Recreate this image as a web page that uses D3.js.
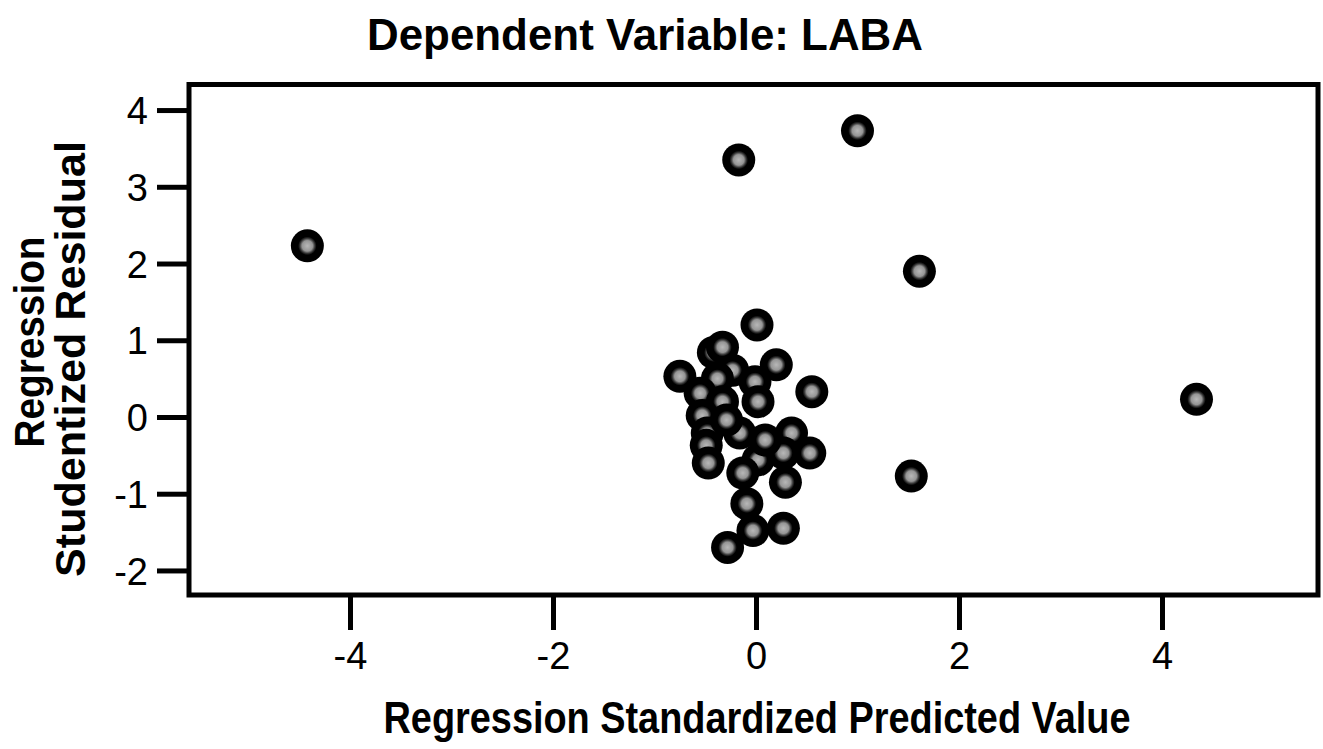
<!DOCTYPE html>
<html>
<head>
<meta charset="utf-8">
<script src="https://cdn.jsdelivr.net/npm/d3@7"></script>
<style>
  body { margin: 0; background: #fff; }
  svg { display: block; }
  text { font-family: "Liberation Sans Narrow", "Arial Narrow", Arial, "Liberation Sans", sans-serif; fill: #000; }
</style>
</head>
<body>
<svg width="1323" height="749"></svg>
<script>
// Data
var predicted = [-4.42, -0.17, 1.00, 1.61, 4.34, 1.53,
  0.01, -0.42, -0.33, 0.20, -0.75, -0.23, -0.38, -0.01, 0.55, -0.55,
  -0.33, 0.02, -0.53, -0.48, -0.16, -0.49, 0.35, 0.27, 0.02, 0.53,
  -0.47, -0.13, 0.29, -0.09, -0.03, 0.27, -0.28, 0.09, -0.29];
var residual = [2.23, 3.35, 3.73, 1.90, 0.23, -0.77,
  1.20, 0.84, 0.91, 0.68, 0.53, 0.61, 0.50, 0.46, 0.33, 0.31,
  0.20, 0.20, 0.02, -0.21, -0.21, -0.37, -0.21, -0.47, -0.56, -0.47,
  -0.60, -0.73, -0.85, -1.13, -1.48, -1.45, -1.70, -0.30, -0.04];
var xTicks = [-4, -2, 0, 2, 4];
var yTicks = [-2, -1, 0, 1, 2, 3, 4];

var title = "Dependent Variable: LABA";
var xLabel = "Regression Standardized Predicted Value";
var yLabel = ["Regression", "Studentized Residual"];

var points = predicted.map(function(d, i) { return {x: d, y: residual[i]}; });

var svg = d3.select("svg"),
    box = {left: 189, right: 1318, top: 84.5, bottom: 595};

var x = d3.scaleLinear().domain([-5.586, 5.537]).range([box.left, box.right]);
var y = d3.scaleLinear().domain([-2.32, 4.333]).range([box.bottom, box.top]);

// marker: black disc with a grey centre
var defs = svg.append("defs");
var grad = defs.append("radialGradient").attr("id", "dot");
grad.append("stop").attr("offset", "0%").attr("stop-color", "#b8b8b8");
grad.append("stop").attr("offset", "32%").attr("stop-color", "#959595");
grad.append("stop").attr("offset", "46%").attr("stop-color", "#333");
grad.append("stop").attr("offset", "56%").attr("stop-color", "#000");
grad.append("stop").attr("offset", "100%").attr("stop-color", "#000");

function fmt(d) { return String(d); }   // plain hyphen minus

// Axes
var xAxis = d3.axisBottom(x).tickValues(xTicks).tickFormat(fmt)
    .tickSize(35).tickSizeOuter(0).tickPadding(12);
var yAxis = d3.axisLeft(y).tickValues(yTicks).tickFormat(fmt)
    .tickSize(32).tickSizeOuter(0).tickPadding(9);

var gx = svg.append("g")
    .attr("transform", "translate(0," + box.bottom + ")")
    .call(xAxis);
var gy = svg.append("g")
    .attr("transform", "translate(" + box.left + ",0)")
    .call(yAxis);

[gx, gy].forEach(function(g) {
  g.attr("font-family", null).attr("font-size", null);
  g.select(".domain").remove();
  g.selectAll(".tick line").attr("stroke", "#000").attr("stroke-width", 5);
  g.selectAll(".tick text").attr("fill", "#000").style("font-size", "38px");
});
gy.selectAll(".tick text").attr("dy", "0.36em");

// frame
svg.append("rect")
    .attr("x", box.left).attr("y", box.top)
    .attr("width", box.right - box.left).attr("height", box.bottom - box.top)
    .attr("fill", "none").attr("stroke", "#000").attr("stroke-width", 5);

// Points
svg.append("g").selectAll("circle")
    .data(points)
  .enter().append("circle")
    .attr("cx", function(d) { return x(d.x); })
    .attr("cy", function(d) { return y(d.y); })
    .attr("r", 16.5)
    .attr("fill", "url(#dot)");

// Titles
svg.append("text")
    .attr("x", 645).attr("y", 50)
    .attr("text-anchor", "middle")
    .style("font-size", "44px").attr("font-weight", "bold")
    .attr("textLength", 556).attr("lengthAdjust", "spacingAndGlyphs")
    .text(title);

svg.append("text")
    .attr("x", 757).attr("y", 733)
    .attr("text-anchor", "middle")
    .style("font-size", "45px").attr("font-weight", "bold")
    .attr("textLength", 747).attr("lengthAdjust", "spacingAndGlyphs")
    .text(xLabel);

svg.append("text")
    .attr("transform", "translate(44,342) rotate(-90)")
    .attr("text-anchor", "middle")
    .style("font-size", "43px").attr("font-weight", "bold")
    .attr("textLength", 211).attr("lengthAdjust", "spacingAndGlyphs")
    .text(yLabel[0]);

svg.append("text")
    .attr("transform", "translate(85,359) rotate(-90)")
    .attr("text-anchor", "middle")
    .style("font-size", "43px").attr("font-weight", "bold")
    .attr("textLength", 436).attr("lengthAdjust", "spacingAndGlyphs")
    .text(yLabel[1]);
</script>
</body>
</html>
